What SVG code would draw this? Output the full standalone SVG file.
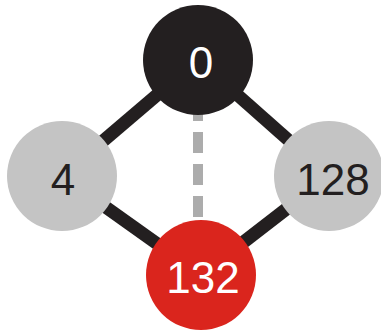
<svg xmlns="http://www.w3.org/2000/svg" width="381" height="331" viewBox="0 0 381 331">
<style>
.edge{stroke:#231f20;stroke-width:13;fill:none}
.dash{stroke:#acacac;stroke-width:10;stroke-dasharray:21 11;fill:none}
.lbl{font-family:"Liberation Sans",Arial,sans-serif;font-size:44px;text-anchor:middle}
</style>
<rect width="381" height="331" fill="#ffffff"/>
<g id="connectors">
<line class="edge" x1="198" y1="60" x2="62" y2="176"/>
<line class="edge" x1="198" y1="60" x2="329" y2="176"/>
<line class="edge" x1="62" y1="176" x2="201" y2="275"/>
<line class="edge" x1="329" y1="176" x2="201" y2="275"/>
<line class="dash" x1="198" y1="217" x2="198" y2="100"/>
</g>
<g id="node0">
<circle cx="198" cy="60" r="55" fill="#231f20"/>
<text class="lbl" x="201" y="78" fill="#ffffff">0</text>
</g>
<g id="node4">
<circle cx="62" cy="176" r="55" fill="#c4c4c4"/>
<text class="lbl" x="63" y="195" fill="#231f20">4</text>
</g>
<g id="node128">
<circle cx="329" cy="176" r="55" fill="#c4c4c4"/>
<text class="lbl" x="333" y="195" fill="#231f20">128</text>
</g>
<g id="node132">
<circle cx="201" cy="275" r="55" fill="#da251d"/>
<text class="lbl" x="203" y="293" fill="#ffffff">132</text>
</g>
</svg>
